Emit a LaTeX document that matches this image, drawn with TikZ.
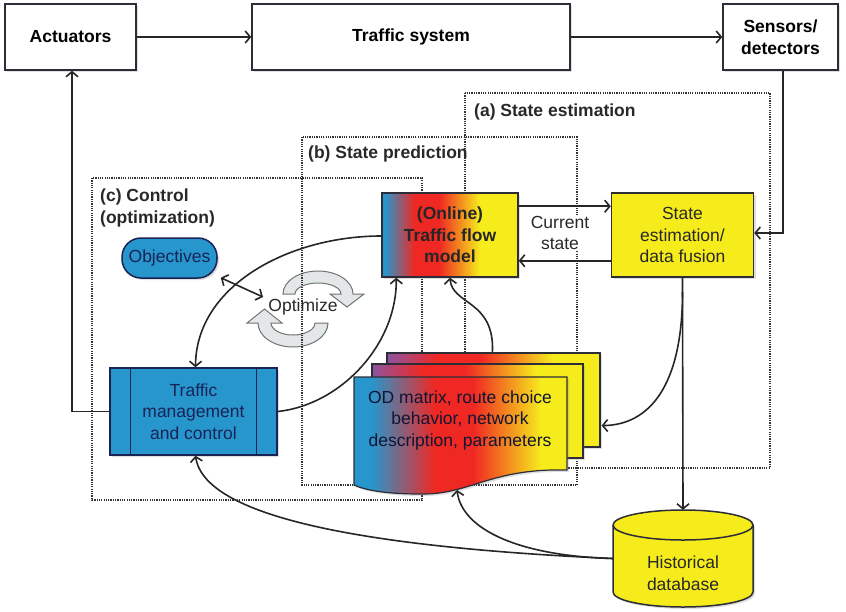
\documentclass[tikz,border=0pt]{standalone}
\usepackage{fontspec}
\setmainfont{Liberation Sans}
\usetikzlibrary{arrows.meta,shadows,calc}

\definecolor{tblue}{RGB}{38,150,205}
\definecolor{tyellow}{RGB}{246,236,28}
\definecolor{tred}{RGB}{240,40,35}
\definecolor{tpurple}{RGB}{140,85,160}
\definecolor{tnavy}{RGB}{25,35,85}
\definecolor{tgray}{RGB}{228,231,231}
\definecolor{tgrayline}{RGB}{110,115,115}
\definecolor{tdark}{RGB}{40,40,40}
\definecolor{tborder}{RGB}{45,45,55}

\pgfdeclarehorizontalshading{flowshade}{100bp}{color(0bp)=(tblue); color(26bp)=(tblue); color(37bp)=(tred); color(46bp)=(tred); color(61bp)=(tyellow); color(100bp)=(tyellow)}
\pgfdeclarehorizontalshading{docshade}{100bp}{color(0bp)=(tblue); color(29bp)=(tblue); color(44bp)=(tred); color(53bp)=(tred); color(69bp)=(tyellow); color(100bp)=(tyellow)}
\pgfdeclarehorizontalshading{backshade}{100bp}{color(0bp)=(tpurple); color(25bp)=(tpurple); color(37bp)=(tred); color(47bp)=(tred); color(64bp)=(tyellow); color(100bp)=(tyellow)}

\tikzset{
  every node/.style={font=\fontsize{17.5}{21.5}\selectfont, inner sep=0pt},
  shad/.style={drop shadow={opacity=0.25, shadow xshift=2pt, shadow yshift=-2pt}},
  topbox/.style={draw=tborder, line width=1.5pt, fill=white, shad, align=center, font=\fontsize{17.5}{21.5}\selectfont\bfseries},
  bluebox/.style={draw=tnavy, line width=1.5pt, fill=tblue, shad, align=center, text=tnavy},
  lab/.style={font=\fontsize{17.5}{21.5}\selectfont\bfseries, text=tdark, align=left},
  region/.style={line width=2pt, dash pattern=on 1.2pt off 1.1pt, draw=black!80},
  arr/.style={line width=1.6pt, draw=black!85, -{Straight Barb[length=5pt,width=12pt]}},
  dblarr/.style={line width=1.6pt, draw=black!85, {Straight Barb[length=5pt,width=12pt]}-{Straight Barb[length=5pt,width=12pt]}},
  cyc/.style={fill=tgray, draw=tgrayline, line width=1pt},
  sheet/.style={draw=tborder, line width=1.2pt, shad},
}

\begin{document}
\begin{tikzpicture}[x=1pt, y=-1pt]
\useasboundingbox (0,0) rectangle (846,611);

% optimize cycle arrows
\path[cyc] (283,294) arc[start angle=180, end angle=360, x radius=35, y radius=23]
  -- (364,294) -- (347,307) -- (330,294) -- (341,294)
  arc[start angle=360, end angle=180, x radius=23, y radius=11] -- cycle;
\path[cyc] (328,323) arc[start angle=0, end angle=180, x radius=35, y radius=24]
  -- (247,323) -- (264.5,309) -- (282,323) -- (271,323)
  arc[start angle=180, end angle=0, x radius=22, y radius=12] -- cycle;

% dotted regions
\draw[region] (465,93) rectangle (770,468);
\draw[region] (302,137) rectangle (577,485);
\draw[region] (92,178) rectangle (422,500);

% region labels
\node[lab, anchor=west] (la) at (474,112) {(a) State estimation};
\node[lab, anchor=west] (lb) at (308,154) {(b) State prediction};
\node[lab, anchor=north west] (lc) at (100,189) {(c) Control\\(optimization)};

% top row
\node[topbox, minimum width=131, minimum height=66] (act) at (70.5,37) {Actuators};
\node[topbox, minimum width=318, minimum height=66] (ts) at (411,37) {Traffic system};
\node[topbox, minimum width=115, minimum height=66] (sen) at (780.5,37) {Sensors/\\detectors};

% model and estimation boxes
\node[draw=tborder, line width=1.5pt, shading=flowshade, shad, minimum width=136, minimum height=84,
      align=center, text=black!85, font=\fontsize{17.5}{21.5}\selectfont\bfseries] (tfm) at (450,235) {(Online)\\Traffic flow\\model};
\node[draw=tborder, line width=1.5pt, fill=tyellow, shad, minimum width=142, minimum height=84,
      align=center, text=tdark] (se) at (682.5,235) {State\\estimation/\\data fusion};

% objectives
\node[bluebox, rounded corners=19pt, minimum width=95, minimum height=40] (obj) at (169.5,258) {Objectives};
\node[text=tdark] (opt) at (303,307) {Optimize};

% traffic management
\node[bluebox, minimum width=167, minimum height=87] (tm) at (193.5,411.5) {Traffic\\management\\and control};
\draw[draw=tnavy, line width=1.3pt] ($(tm.north west)+(21,0)$) -- ($(tm.south west)+(21,0)$);
\draw[draw=tnavy, line width=1.3pt] ($(tm.north east)+(-21,0)$) -- ($(tm.south east)+(-21,0)$);

% document stack
\node[sheet, shading=backshade, minimum width=213, minimum height=94] (back) at (493.5,400) {};
\node[sheet, shading=backshade, minimum width=211, minimum height=94] (mid) at (477.5,411) {};
\path[sheet, shading=docshade] (354,377) -- (567,377) -- (567,470)
  .. controls (490,468) and (470,495) .. (420,494)
  .. controls (385,494) and (365,490) .. (354,485) -- cycle;
\coordinate (frontbot) at (457,490);
\node[align=center, text=tnavy!60!black] (od) at (460,420) {OD matrix, route choice\\behavior, network\\description, parameters};

% database
\path[fill=tyellow, draw=tborder, line width=1.5pt, shad] (613,525) -- (613,592)
  arc[start angle=180, end angle=0, x radius=70, y radius=15] -- (753,525)
  arc[start angle=0, end angle=-180, x radius=70, y radius=15] -- cycle;
\draw[draw=tborder, line width=1.5pt] (613,525) arc[start angle=180, end angle=0, x radius=70, y radius=15];
\node[minimum width=140, minimum height=97] (db) at (683,558.5) {};
\node[align=center, text=tdark] (dbt) at (683,573) {Historical\\database};

% connectors
\draw[arr] (act.east) -- (ts.west);
\draw[arr] (ts.east) -- (sen.west);
\draw[arr] ($(sen.south)+(2.5,0)$) |- ($(se.east)+(0,-2)$);
\draw[arr] (tm.west) -| ($(act.south)+(1.5,0)$);
\draw[arr] ($(tfm.north east)+(0,14)$) -- ($(se.north west)+(0,14)$);
\draw[arr] ($(se.south west)+(0,-17)$) -- ($(tfm.south east)+(0,-17)$);
\node[fill=white, align=center, text=tdark, inner sep=1pt] (cs) at (560,233) {Current\\state};
\draw[arr] (se.south) -- (db.north);
\coordinate (sesplit) at (682.5,292);
\draw[arr] (sesplit) .. controls (682.5,385) and (650,425) .. ($(back.south east)+(1,-22)$);
\draw[arr] (tm.east) .. controls (340,405) and (397,345) .. ($(tfm.south west)+(15,0)$);
\draw[arr] ($(tfm.west)+(0,1)$) .. controls (290,236) and (196,285) .. ($(tm.north)+(2,0)$);
\draw[arr] ($(back.north west)+(106,0)$) .. controls (495,300) and (452,305) .. (tfm.south);
\draw[arr] (db.west) .. controls (380,548) and (205,520) .. ($(tm.south)+(2,0)$);
\draw[arr] (db.west) .. controls (520,556) and (462,530) .. (frontbot);
\coordinate (optin) at (263,297);
\draw[dblarr] ($(obj.south east)+(3,-1)$) -- (optin);
\end{tikzpicture}
\end{document}
